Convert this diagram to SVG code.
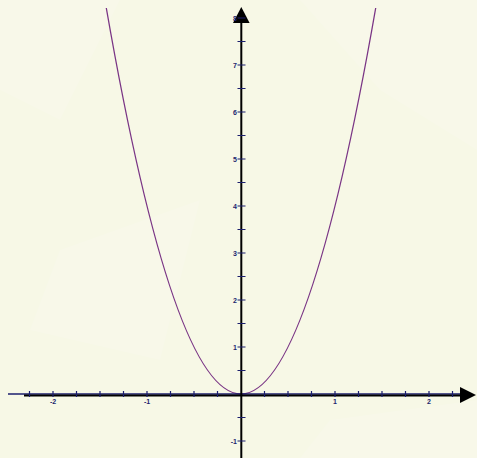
<svg xmlns="http://www.w3.org/2000/svg" width="477" height="458" viewBox="0 0 477 458">
<style>
.tk{stroke:#1c1f6e;stroke-width:1.2}
.lb{font-family:"Liberation Sans",Arial,sans-serif;font-size:7px;font-weight:bold;fill:#1c1f6e}
.ax{stroke:#000;stroke-width:2;fill:none}
</style>
<rect width="477" height="458" fill="#f7f8e6"/>
<g opacity="0.3" fill="#fbfbf2">
<polygon points="0,0 120,0 60,120 0,90"/>
<polygon points="300,0 477,0 477,150 380,90"/>
<polygon points="60,250 200,200 160,360 30,330"/>
<polygon points="330,420 477,400 477,458 300,458"/>
</g>
<g id="curve">
<path d="M106.3,8 Q241,780 375.7,8" fill="none" stroke="#7a3585" stroke-width="1.3"/>
</g>
<g id="connectors">
<line x1="8" y1="394" x2="462" y2="394" stroke="#1c1f6e" stroke-width="1.5"/>
<line class="ax" x1="24" y1="395.6" x2="462" y2="395.6"/>
<line class="ax" x1="241.3" y1="20" x2="241.3" y2="458"/>
<polygon points="241.3,7 233,23 249.6,23" fill="#000"/>
<polygon points="476,395 460,387 460,403" fill="#000"/>
</g>
<g id="xticks">
<path class="tk" d="M29.5,391v6M53,391v6M76.5,391v6M100,391v6M123.5,391v6M147,391v6M170.5,391v6M194,391v6M217.5,391v6M264.5,391v6M288,391v6M311.5,391v6M335,391v6M358.5,391v6M382,391v6M405.5,391v6M429,391v6M452.5,391v6"/>
</g>
<g id="yticks">
<path class="tk" d="M237.5,18h8M237.5,41.5h8M237.5,65h8M237.5,88.5h8M237.5,112h8M237.5,135.5h8M237.5,159h8M237.5,182.5h8M237.5,206h8M237.5,229.5h8M237.5,253h8M237.5,276.5h8M237.5,300h8M237.5,323.5h8M237.5,347h8M237.5,370.5h8M237.5,417.5h8M237.5,441h8"/>
</g>
<g id="xlabels">
<text class="lb" x="53" y="404" text-anchor="middle">-2</text>
<text class="lb" x="147" y="404" text-anchor="middle">-1</text>
<text class="lb" x="335" y="404" text-anchor="middle">1</text>
<text class="lb" x="429" y="404" text-anchor="middle">2</text>
</g>
<g id="ylabels">
<text class="lb" x="237" y="20.5" text-anchor="end">8</text>
<text class="lb" x="237" y="67.5" text-anchor="end">7</text>
<text class="lb" x="237" y="114.5" text-anchor="end">6</text>
<text class="lb" x="237" y="161.5" text-anchor="end">5</text>
<text class="lb" x="237" y="208.5" text-anchor="end">4</text>
<text class="lb" x="237" y="255.5" text-anchor="end">3</text>
<text class="lb" x="237" y="302.5" text-anchor="end">2</text>
<text class="lb" x="237" y="349.5" text-anchor="end">1</text>
<text class="lb" x="237" y="443.5" text-anchor="end">-1</text>
</g>
</svg>
